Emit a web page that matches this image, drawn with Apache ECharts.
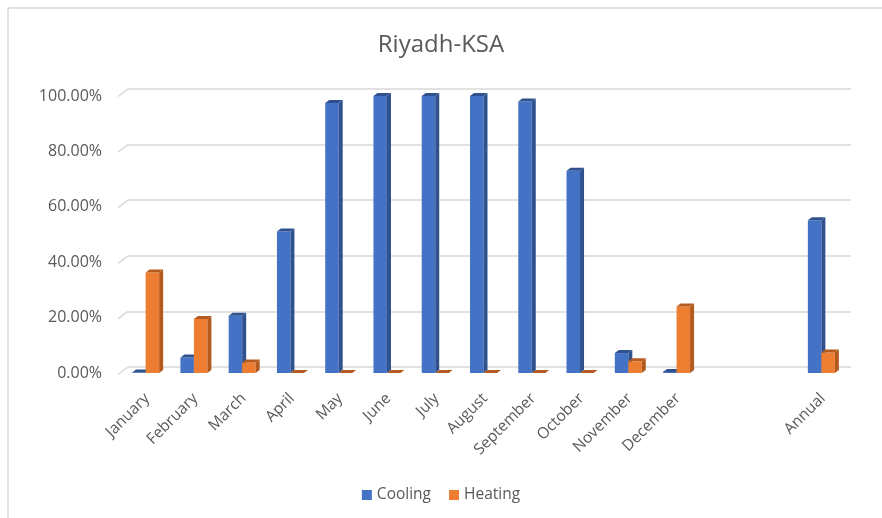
<!DOCTYPE html>
<html>
<head>
<meta charset="utf-8">
<script src="https://cdn.jsdelivr.net/npm/echarts@6/dist/echarts.min.js"></script>
<style>
  html, body { margin: 0; padding: 0; background: #fff; }
  #chart { width: 882px; height: 518px; }
</style>
</head>
<body>
<div id="chart"></div>
<script>
const categories = ['January', 'February', 'March', 'April', 'May', 'June', 'July',
    'August', 'September', 'October', 'November', 'December', '', '', 'Annual'];
const cooling = [0.002, 0.056, 0.207, 0.511, 0.975, 1.0, 1.0, 1.0, 0.98, 0.73, 0.072, 0.004, null, null, 0.551];
const heating = [0.363, 0.195, 0.038, 0, 0, 0, 0, 0, 0, 0, 0.042, 0.24, null, null, 0.074];
const yTicks = [0, 0.2, 0.4, 0.6, 0.8, 1.0];

const chart = echarts.init(document.getElementById('chart'));
const FONT = 'Open Sans';
const TXT = '#595959';

// 3D looking column: front face, side face and top face
function bar3d(offset, front, dark) {
    return function (params, api) {
        const top = api.coord([api.value(0), api.value(1)]);
        const base = api.coord([api.value(0), 0]);
        const w = 13.5, dx = 4, dy = 3;
        const x0 = top[0] + offset;
        const y = top[1], yb = base[1];
        return {
            type: 'group',
            children: [
                { type: 'rect', shape: { x: x0, y: y, width: w, height: yb - y }, style: { fill: front } },
                { type: 'polygon', shape: { points: [[x0 + w, y], [x0 + w + dx, y - dy], [x0 + w + dx, yb - dy], [x0 + w, yb]] }, style: { fill: dark } },
                { type: 'polygon', shape: { points: [[x0, y], [x0 + w, y], [x0 + w + dx, y - dy], [x0 + dx, y - dy]] }, style: { fill: dark } }
            ]
        };
    };
}

function pairs(arr) {
    return arr.map((v, i) => [i, v]).filter(d => d[1] != null);
}

chart.setOption({
    animation: false,
    textStyle: { fontFamily: FONT },
    title: {
        text: 'Riyadh-KSA', left: 'center', top: 28,
        textStyle: { fontFamily: FONT, fontSize: 24, fontWeight: 'normal', color: TXT }
    },
    legend: {
        bottom: 10, left: 'center', icon: 'rect', itemWidth: 10, itemHeight: 10, itemGap: 18,
        textStyle: { fontFamily: FONT, fontSize: 15.5, color: TXT },
        data: ['Cooling', 'Heating']
    },
    graphic: [{
        type: 'rect', z: -10, silent: true,
        shape: { x: 8, y: 8, width: 900, height: 600 },
        style: { fill: null, stroke: '#d9d9d9', lineWidth: 1.5 }
    }],
    grid: [
        { left: 123, right: 35, top: 96, bottom: 145 },
        { left: 128, right: 31, top: 89, bottom: 151 }
    ],
    xAxis: [
        {
            type: 'category', gridIndex: 0, data: categories,
            axisLine: { show: false }, axisTick: { show: false },
            axisLabel: { rotate: 45, interval: 0, margin: 23, color: TXT, fontSize: 15.5, fontFamily: FONT }
        },
        { type: 'value', gridIndex: 1, min: 0, max: 1, show: false }
    ],
    yAxis: [
        {
            type: 'value', gridIndex: 0, min: 0, max: 1, interval: 0.2,
            axisLine: { show: false }, axisTick: { show: false }, splitLine: { show: false },
            axisLabel: { margin: 21, color: TXT, fontSize: 16, fontFamily: FONT,
                formatter: v => (v * 100).toFixed(2) + '%' }
        },
        {
            type: 'value', gridIndex: 1, min: 0, max: 1, interval: 0.2,
            axisLine: { show: false }, axisTick: { show: false }, axisLabel: { show: false },
            splitLine: { lineStyle: { color: '#d9d9d9', width: 1.5 } }
        }
    ],
    series: [
        {
            // slanted edge lines joining the back wall gridlines to the labels
            type: 'custom', xAxisIndex: 1, yAxisIndex: 1, silent: true,
            data: yTicks.map(v => [0, v]),
            encode: { x: 0, y: 1 },
            renderItem(params, api) {
                const p = api.coord([0, api.value(1)]);
                return { type: 'line', shape: { x1: p[0] - 10, y1: p[1] + 7.5, x2: p[0], y2: p[1] },
                    style: { stroke: '#d9d9d9', lineWidth: 1.5 } };
            }
        },
        {
            name: 'Cooling', type: 'custom', xAxisIndex: 0, yAxisIndex: 0,
            itemStyle: { color: '#4472C4' },
            data: pairs(cooling), encode: { x: 0, y: 1 },
            renderItem: bar3d(-15, '#4472C4', '#2F528F')
        },
        {
            name: 'Heating', type: 'custom', xAxisIndex: 0, yAxisIndex: 0,
            itemStyle: { color: '#ED7D31' },
            data: pairs(heating), encode: { x: 0, y: 1 },
            renderItem: bar3d(-1.5, '#ED7D31', '#B55A1E')
        }
    ]
});

window.addEventListener('resize', () => chart.resize());
</script>
</body>
</html>
